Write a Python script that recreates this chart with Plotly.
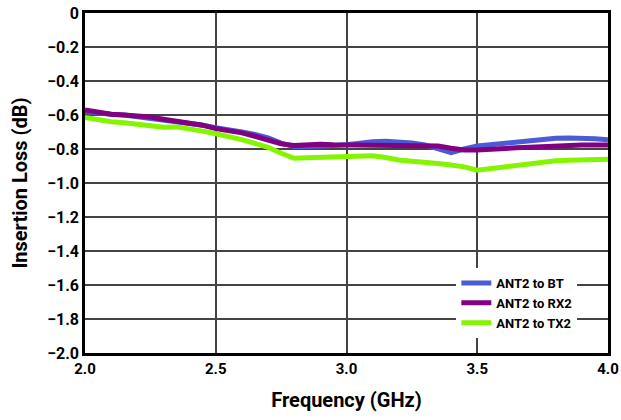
import plotly.graph_objects as go

freq = [2.00, 2.05, 2.10, 2.15, 2.20, 2.25, 2.30, 2.35, 2.40, 2.45,
        2.50, 2.55, 2.60, 2.65, 2.70, 2.75, 2.80, 2.85, 2.90, 2.95,
        3.00, 3.05, 3.10, 3.15, 3.20, 3.25, 3.30, 3.35, 3.40, 3.45,
        3.50, 3.55, 3.60, 3.65, 3.70, 3.75, 3.80, 3.85, 3.90, 3.95, 4.00]

ant2_bt = [-0.580, -0.590, -0.595, -0.600, -0.610, -0.615, -0.625, -0.635, -0.645, -0.660,
           -0.675, -0.685, -0.700, -0.715, -0.735, -0.765, -0.785, -0.785, -0.785, -0.780,
           -0.775, -0.765, -0.757, -0.755, -0.757, -0.765, -0.776, -0.800, -0.822, -0.800,
           -0.782, -0.775, -0.767, -0.760, -0.751, -0.745, -0.737, -0.735, -0.735, -0.740, -0.745]

ant2_rx2 = [-0.570, -0.585, -0.595, -0.600, -0.605, -0.612, -0.625, -0.635, -0.645, -0.660,
            -0.680, -0.690, -0.705, -0.725, -0.745, -0.770, -0.780, -0.775, -0.772, -0.775,
            -0.776, -0.775, -0.776, -0.775, -0.776, -0.778, -0.778, -0.782, -0.796, -0.806,
            -0.806, -0.800, -0.796, -0.793, -0.790, -0.785, -0.782, -0.780, -0.776, -0.776, -0.776]

ant2_tx2 = [-0.615, -0.630, -0.640, -0.645, -0.655, -0.668, -0.672, -0.670, -0.680, -0.695,
            -0.710, -0.725, -0.745, -0.767, -0.790, -0.825, -0.855, -0.852, -0.850, -0.845,
            -0.840, -0.838, -0.840, -0.850, -0.865, -0.872, -0.875, -0.885, -0.894, -0.905,
            -0.925, -0.915, -0.904, -0.895, -0.885, -0.877, -0.869, -0.866, -0.865, -0.862, -0.860]

series = [
    ("ANT2 to BT", ant2_bt, "#4B5BD6"),
    ("ANT2 to RX2", ant2_rx2, "#820082"),
    ("ANT2 to TX2", ant2_tx2, "#84F500"),
]

y_ticks = [0, -0.2, -0.4, -0.6, -0.8, -1.0, -1.2, -1.4, -1.6, -1.8, -2.0]
y_tick_labels = ["0", "−0.2", "−0.4", "−0.6", "−0.8", "−1.0", "−1.2", "−1.4", "−1.6", "−1.8", "−2.0"]
x_ticks = [2.0, 2.5, 3.0, 3.5, 4.0]
x_tick_labels = ["2.0", "2.5", "3.0", "3.5", "4.0"]

FONT = "Roboto, Arial, sans-serif"

fig = go.Figure()
for name, vals, color in series:
    fig.add_trace(go.Scatter(x=freq, y=vals, mode="lines", name=name,
                             line=dict(color=color, width=5)))

fig.update_layout(
    width=621, height=420,
    margin=dict(l=85, r=13, t=13, b=67, autoexpand=False),
    paper_bgcolor="white", plot_bgcolor="white",
    font=dict(family=FONT, color="black", size=16, weight="bold"),
    showlegend=True,
    legend=dict(x=0.71, y=0.25, xanchor="left", yanchor="top",
                bgcolor="white", borderwidth=0,
                font=dict(family=FONT, size=13, color="black", weight="bold"),
                tracegroupgap=0, itemwidth=30),
)
fig.update_xaxes(range=[2.0, 4.0], tickvals=x_ticks, ticktext=x_tick_labels,
                 showgrid=True, gridcolor="#444444", gridwidth=1.5,
                 showline=True, linecolor="black", linewidth=2.5, mirror=True,
                 ticks="", zeroline=False, automargin=False,
                 tickfont=dict(family=FONT, size=15, weight="bold"),
                 title=dict(text="Frequency (GHz)", standoff=17,
                            font=dict(family=FONT, size=20, weight="bold")))
fig.update_yaxes(range=[-2.0, 0], tickvals=y_ticks, ticktext=y_tick_labels,
                 showgrid=True, gridcolor="#444444", gridwidth=1.5,
                 showline=True, linecolor="black", linewidth=2.5, mirror=True,
                 ticks="", zeroline=False, automargin=False,
                 tickfont=dict(family=FONT, size=16, weight="bold"),
                 title=dict(text="Insertion Loss (dB)", standoff=15,
                            font=dict(family=FONT, size=20, weight="bold")))

fig.write_html("out.html", config={"displayModeBar": False},
               post_script="document.body.style.margin='0';document.body.style.overflow='hidden';")
